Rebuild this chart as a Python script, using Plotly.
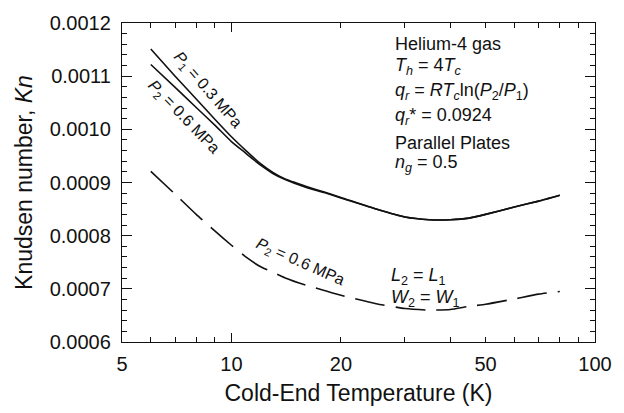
import math
import plotly.graph_objects as go

# Cold-end temperature (K)
temperature = [6, 7, 8, 9, 10, 11, 12, 13, 14, 16, 18, 20, 25, 30, 35, 40, 45, 50, 60, 70, 80]

# Knudsen number, P1 = 0.3 MPa (solid)
kn_p1 = [0.001151, 0.001100, 0.001057, 0.001019, 0.000986, 0.000959, 0.000936, 0.000919,
         0.000907, 0.000893, 0.000882, 0.000872, 0.000850, 0.000835, 0.000830, 0.000830,
         0.000833, 0.000840, 0.000854, 0.000865, 0.000876]

# Knudsen number, P2 = 0.6 MPa (solid)
kn_p2 = [0.001122, 0.001079, 0.001041, 0.001008, 0.000977, 0.000954, 0.000933, 0.000917,
         0.000906, 0.000891, 0.000881, 0.000871, 0.000850, 0.000835, 0.000830, 0.000830,
         0.000833, 0.000840, 0.000854, 0.000865, 0.000876]

# Knudsen number, P2 = 0.6 MPa with L2 = L1, W2 = W1 (dashed)
kn_p2_same = [0.000921, 0.000878, 0.000840, 0.000809, 0.000782, 0.000759, 0.000742, 0.000731,
              0.000721, 0.000707, 0.000697, 0.000688, 0.000672, 0.000663, 0.000660, 0.000661,
              0.000667, 0.000671, 0.000681, 0.000690, 0.000695]

x_tickvals = [5, 10, 20, 50, 100]
x_minor_vals = [6, 7, 8, 9, 30, 40, 60, 70, 80, 90]
x_decades = [10, 100]
y_range = [0.0006, 0.0012]

W, H = 624, 413
ML, MR, MT, MB = 122, 28, 15, 67
FONT = "Arial, Liberation Sans, Helvetica, sans-serif"
INK = "#111111"


def px(x):
    return (x - ML) / (W - ML - MR)


def py(y):
    return (H - MB - y) / (H - MT - MB)


fig = go.Figure()
for kn in (kn_p1, kn_p2):
    fig.add_trace(go.Scatter(x=temperature, y=kn, mode="lines",
                             line=dict(color=INK, width=1.6, shape="spline", smoothing=0.5),
                             hoverinfo="skip", showlegend=False))
fig.add_trace(go.Scatter(x=temperature, y=kn_p2_same, mode="lines",
                         line=dict(color=INK, width=1.6, dash="30px,11px", shape="spline", smoothing=0.5),
                         hoverinfo="skip", showlegend=False))

log_range = [math.log10(5), math.log10(100)]
axis_line = dict(showline=True, linecolor=INK, linewidth=1.3, mirror="ticks",
                 ticks="inside", tickcolor=INK, tickwidth=1.2, showgrid=False, zeroline=False)

fig.update_layout(
    width=W, height=H,
    margin=dict(l=ML, r=MR, t=MT, b=MB, pad=0),
    paper_bgcolor="white", plot_bgcolor="white",
    font=dict(family=FONT, size=20, color=INK),
    showlegend=False,
    xaxis=dict(type="log", range=log_range, tickvals=x_tickvals,
               ticktext=[str(v) for v in x_tickvals], ticklen=5,
               minor=dict(tickvals=x_minor_vals, ticks="inside", ticklen=5,
                          tickcolor=INK, tickwidth=1.2, showgrid=False),
               ticklabelstandoff=4,
               title=dict(text="Cold-End Temperature (K)", font=dict(size=23), standoff=10),
               **axis_line),
    xaxis2=dict(type="log", range=log_range, overlaying="x", anchor="y", side="bottom",
                tickvals=x_decades, ticklen=9, showticklabels=False,
                showline=False, mirror="ticks", ticks="inside", tickcolor=INK,
                tickwidth=1.2, showgrid=False, zeroline=False),
    yaxis=dict(range=y_range, dtick=0.0001, tick0=0.0006, tickformat=".4f", ticklen=10,
               minor=dict(dtick=0.00002, ticks="inside", ticklen=5,
                          tickcolor=INK, tickwidth=1.2, showgrid=False),
               ticklabelstandoff=6,
               title=dict(text="Knudsen number, <i>Kn</i>", font=dict(size=23), standoff=10),
               **axis_line),
)

# anchor trace so the decade-tick axis is drawn
fig.add_trace(go.Scatter(x=[temperature[0]], y=[kn_p1[0]], xaxis="x2", yaxis="y",
                         mode="markers", marker=dict(opacity=0), hoverinfo="skip",
                         showlegend=False))

annotations = []


def note(text, x, y, size=18, xanchor="left", yanchor="middle", angle=0):
    annotations.append(dict(text=text, x=px(x), y=py(y), xref="paper", yref="paper",
                            xanchor=xanchor, yanchor=yanchor, textangle=angle,
                            showarrow=False, font=dict(family=FONT, size=size, color=INK)))


# property block
note("Helium-4 gas", 394, 37)
note("<i>T<sub>h</sub></i> = 4<i>T<sub>c</sub></i>", 394, 60)
note("<i>q<sub>r</sub></i> = <i>RT<sub>c</sub></i>ln(<i>P</i><sub>2</sub>/<i>P</i><sub>1</sub>)", 394, 86)
note("<i>q<sub>r</sub></i>* = 0.0924", 394, 112)
note("Parallel Plates", 394, 139)
note("<i>n<sub>g</sub></i> = 0.5", 394, 161)
note("<i>L</i><sub>2</sub> = <i>L</i><sub>1</sub>", 390, 278)
note("<i>W</i><sub>2</sub> = <i>W</i><sub>1</sub>", 390, 301)

# curve labels
note("<i>P</i><sub>1</sub> = 0.3 MPa", 208, 85, size=16, xanchor="center", angle=49)
note("<i>P</i><sub>2</sub> = 0.6 MPa", 184, 113, size=16, xanchor="center", angle=46)
note("<i>P</i><sub>2</sub> = 0.6 MPa", 301, 263, size=16, xanchor="center", angle=24)

fig.update_layout(annotations=annotations)
fig.write_html("out.html")
